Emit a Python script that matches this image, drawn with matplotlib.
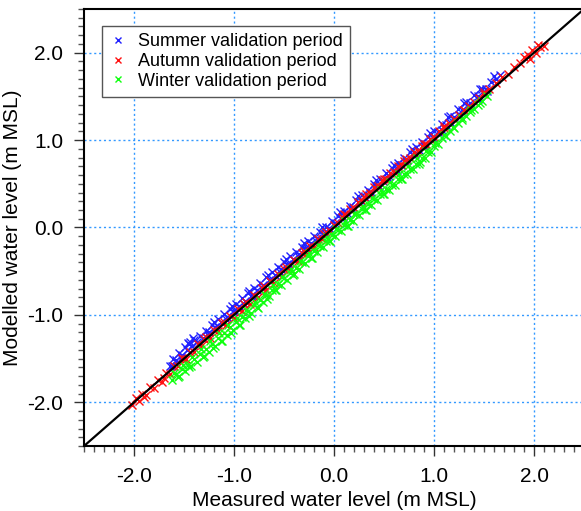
import matplotlib
matplotlib.use("Agg")
import matplotlib.pyplot as plt
from matplotlib.ticker import MultipleLocator, FormatStrFormatter

plt.rcParams["font.family"] = ["Liberation Sans", "DejaVu Sans"]
plt.rcParams["axes.unicode_minus"] = False

# Summer validation period (measured, modelled) in m MSL
summer_meas = [-1.64, -1.61, -1.58, -1.55, -1.52, -1.49, -1.47, -1.45, -1.42, -1.40,
               -1.37, -1.34, -1.31, -1.28, -1.25, -1.22, -1.19, -1.16, -1.13, -1.10,
               -1.07, -1.04, -1.01, -0.98, -0.95, -0.92, -0.89, -0.86, -0.83, -0.80,
               -0.77, -0.74, -0.71, -0.68, -0.65, -0.62, -0.59, -0.56, -0.53, -0.50,
               -0.47, -0.44, -0.41, -0.38, -0.35, -0.32, -0.29, -0.26, -0.23, -0.20,
               -0.17, -0.14, -0.11, -0.08, -0.05, -0.02, 0.01, 0.04, 0.07, 0.10,
               0.13, 0.16, 0.19, 0.22, 0.25, 0.28, 0.31, 0.34, 0.37, 0.40,
               0.43, 0.46, 0.49, 0.52, 0.55, 0.58, 0.61, 0.64, 0.67, 0.70,
               0.73, 0.76, 0.79, 0.82, 0.85, 0.88, 0.91, 0.94, 0.97, 1.00,
               1.04, 1.08, 1.12, 1.16, 1.20, 1.24, 1.28, 1.32, 1.36, 1.40,
               1.44, 1.48, 1.52, 1.57, 1.62, 1.66,
               -1.62, -1.53, -1.44, -1.35, -1.26, -1.17, -1.08, -0.99, -0.90, -0.81,
               -0.72, -0.63, -0.54, -0.45, -0.36, -0.27, -0.18, -0.09, 0.00, 0.09,
               0.18, 0.27, 0.36, 0.45, 0.54, 0.63, 0.72, 0.81, 0.90, 0.99,
               1.08, 1.17, 1.26, 1.35, 1.44, 1.53,
               -1.46, -1.41, -1.20, -1.02, -0.85, -0.66, -0.48, -0.30, -0.12, 0.06,
               0.24, 0.42, 0.60, 0.78, 0.96, 1.14, 1.30, 1.46, 1.60]
summer_mod = [-1.58, -1.50, -1.52, -1.44, -1.46, -1.37, -1.40, -1.33, -1.36, -1.29,
              -1.31, -1.24, -1.26, -1.18, -1.20, -1.12, -1.14, -1.05, -1.08, -0.99,
              -1.02, -0.93, -0.96, -0.87, -0.90, -0.81, -0.84, -0.75, -0.78, -0.69,
              -0.72, -0.63, -0.66, -0.57, -0.60, -0.51, -0.54, -0.45, -0.48, -0.39,
              -0.42, -0.33, -0.36, -0.28, -0.30, -0.22, -0.24, -0.16, -0.18, -0.10,
              -0.12, -0.05, -0.07, 0.01, -0.01, 0.07, 0.05, 0.13, 0.11, 0.19,
              0.17, 0.25, 0.23, 0.31, 0.29, 0.37, 0.35, 0.43, 0.41, 0.50,
              0.47, 0.56, 0.53, 0.62, 0.59, 0.68, 0.65, 0.74, 0.71, 0.80,
              0.77, 0.86, 0.83, 0.92, 0.89, 0.98, 0.95, 1.04, 1.01, 1.10,
              1.09, 1.18, 1.17, 1.27, 1.26, 1.36, 1.34, 1.44, 1.42, 1.52,
              1.50, 1.59, 1.58, 1.67, 1.70, 1.74,
              -1.59, -1.49, -1.31, -1.32, -1.23, -1.13, -1.05, -0.95, -0.87, -0.78,
              -0.69, -0.60, -0.51, -0.42, -0.33, -0.24, -0.15, -0.06, 0.03, 0.12,
              0.21, 0.30, 0.39, 0.48, 0.57, 0.66, 0.75, 0.84, 0.93, 1.02,
              1.11, 1.20, 1.29, 1.38, 1.47, 1.56,
              -1.32, -1.27, -1.08, -0.90, -0.73, -0.54, -0.36, -0.18, 0.00, 0.18,
              0.36, 0.54, 0.72, 0.90, 1.08, 1.26, 1.43, 1.58, 1.73]

# Autumn validation period
autumn_meas = [-2.02, -1.98, -1.95, -1.92, -1.88, -1.84, -1.80, -1.76, -1.72, -1.68,
               -1.64, -1.60, -1.56, -1.52, -1.48, -1.44, -1.40, -1.36, -1.32, -1.28,
               -1.24, -1.20, -1.16, -1.12, -1.08, -1.04, -1.00, -0.96, -0.92, -0.88,
               -0.84, -0.80, -0.76, -0.72, -0.68, -0.64, -0.60, -0.56, -0.52, -0.48,
               -0.44, -0.40, -0.36, -0.32, -0.28, -0.24, -0.20, -0.16, -0.12, -0.08,
               -0.04, 0.00, 0.04, 0.08, 0.12, 0.16, 0.20, 0.24, 0.28, 0.32,
               0.36, 0.40, 0.44, 0.48, 0.52, 0.56, 0.60, 0.64, 0.68, 0.72,
               0.76, 0.80, 0.84, 0.88, 0.92, 0.96, 1.00, 1.05, 1.10, 1.15,
               1.20, 1.25, 1.30, 1.35, 1.40, 1.45, 1.50, 1.55, 1.62, 1.68,
               1.74, 1.80, 1.86, 1.90, 1.94, 1.98, 2.02, 2.06, 2.10,
               -1.90, -1.70, -1.50, -1.30, -1.10, -0.90, -0.70, -0.50, -0.30, -0.10,
               0.10, 0.30, 0.50, 0.70, 0.90, 1.10, 1.30, 1.50, 1.96, 2.04]
autumn_mod = [-2.03, -1.95, -1.99, -1.90, -1.92, -1.82, -1.84, -1.74, -1.77, -1.66,
              -1.68, -1.58, -1.59, -1.49, -1.51, -1.42, -1.43, -1.33, -1.35, -1.25,
              -1.27, -1.17, -1.18, -1.09, -1.11, -1.01, -1.03, -0.93, -0.95, -0.85,
              -0.87, -0.77, -0.79, -0.69, -0.71, -0.61, -0.63, -0.53, -0.55, -0.45,
              -0.47, -0.37, -0.38, -0.29, -0.30, -0.21, -0.22, -0.13, -0.13, -0.05,
              -0.04, 0.03, 0.05, 0.12, 0.14, 0.21, 0.22, 0.29, 0.30, 0.38,
              0.39, 0.46, 0.47, 0.54, 0.56, 0.62, 0.64, 0.70, 0.72, 0.78,
              0.80, 0.86, 0.88, 0.93, 0.96, 1.01, 1.04, 1.10, 1.14, 1.20,
              1.24, 1.29, 1.34, 1.39, 1.44, 1.48, 1.53, 1.58, 1.65, 1.72,
              1.76, 1.84, 1.88, 1.95, 1.97, 2.03, 2.00, 2.06, 2.08,
              -1.94, -1.72, -1.50, -1.28, -1.08, -0.88, -0.67, -0.47, -0.27, -0.07,
              0.15, 0.35, 0.56, 0.76, 0.96, 1.16, 1.35, 1.55, 1.93, 2.09]

# Winter validation period
winter_meas = [-1.62, -1.58, -1.55, -1.52, -1.49, -1.46, -1.43, -1.40, -1.37, -1.34,
               -1.31, -1.28, -1.25, -1.22, -1.19, -1.16, -1.13, -1.10, -1.07, -1.04,
               -1.01, -0.98, -0.95, -0.92, -0.89, -0.86, -0.83, -0.80, -0.77, -0.74,
               -0.71, -0.68, -0.65, -0.62, -0.59, -0.56, -0.53, -0.50, -0.47, -0.44,
               -0.41, -0.38, -0.35, -0.32, -0.29, -0.26, -0.23, -0.20, -0.17, -0.14,
               -0.11, -0.08, -0.05, -0.02, 0.01, 0.04, 0.07, 0.10, 0.13, 0.16,
               0.19, 0.22, 0.25, 0.28, 0.31, 0.34, 0.37, 0.40, 0.43, 0.46,
               0.49, 0.52, 0.55, 0.58, 0.61, 0.64, 0.67, 0.70, 0.73, 0.76,
               0.79, 0.82, 0.85, 0.88, 0.91, 0.94, 0.97, 1.00, 1.04, 1.08,
               1.12, 1.16, 1.20, 1.24, 1.28, 1.32, 1.36, 1.40, 1.44, 1.48, 1.53,
               -1.60, -1.51, -1.42, -1.33, -1.24, -1.15, -1.06, -0.97, -0.88, -0.79,
               -0.70, -0.61, -0.52, -0.43, -0.34, -0.25, -0.16, -0.07, 0.02, 0.11,
               0.20, 0.29, 0.38, 0.47, 0.56, 0.65, 0.74, 0.83, 0.92, 1.01,
               1.10, 1.19, 1.28, 1.37, 1.46,
               -1.56, -1.45, -1.30, -1.21, -1.12, -1.03, -0.94, -0.85, -0.76, -0.67,
               -0.58, -0.40, -0.22, -0.04, 0.14, 0.32, 0.50, 0.68, 0.86]
winter_mod = [-1.74, -1.68, -1.70, -1.62, -1.64, -1.57, -1.59, -1.51, -1.54, -1.45,
              -1.48, -1.39, -1.42, -1.33, -1.36, -1.27, -1.30, -1.21, -1.23, -1.14,
              -1.17, -1.08, -1.11, -1.02, -1.04, -0.95, -0.98, -0.89, -0.91, -0.83,
              -0.85, -0.77, -0.78, -0.71, -0.72, -0.65, -0.66, -0.58, -0.60, -0.52,
              -0.54, -0.46, -0.47, -0.40, -0.41, -0.33, -0.35, -0.27, -0.28, -0.21,
              -0.22, -0.15, -0.16, -0.09, -0.10, -0.03, -0.04, 0.03, 0.02, 0.09,
              0.08, 0.15, 0.14, 0.21, 0.20, 0.27, 0.26, 0.33, 0.32, 0.38,
              0.38, 0.44, 0.43, 0.49, 0.49, 0.55, 0.55, 0.61, 0.61, 0.67,
              0.67, 0.73, 0.73, 0.80, 0.79, 0.86, 0.86, 0.93, 0.96, 1.02,
              1.05, 1.10, 1.14, 1.19, 1.23, 1.28, 1.32, 1.36, 1.40, 1.45, 1.50,
              -1.66, -1.57, -1.48, -1.39, -1.30, -1.21, -1.12, -1.03, -0.94, -0.85,
              -0.76, -0.66, -0.57, -0.48, -0.38, -0.29, -0.20, -0.11, -0.02, 0.07,
              0.16, 0.25, 0.34, 0.43, 0.52, 0.61, 0.70, 0.79, 0.88, 0.97,
              1.06, 1.15, 1.25, 1.34, 1.43,
              -1.71, -1.60, -1.47, -1.38, -1.30, -1.21, -1.11, -1.01, -0.92, -0.82,
              -0.72, -0.53, -0.35, -0.16, 0.02, 0.20, 0.38, 0.56, 0.75]

axis_limits = [-2.5, 2.5]

fig = plt.figure(figsize=(5.81, 5.11), dpi=100)
ax = fig.add_axes([0.1446, 0.1272, 0.8606, 0.8552])

ax.plot(summer_meas, summer_mod, "x", color="#2020ff", markersize=5.5, mew=1.0,
        label="Summer validation period")
ax.plot(autumn_meas, autumn_mod, "x", color="#ff1010", markersize=5.5, mew=1.0,
        label="Autumn validation period")
ax.plot(winter_meas, winter_mod, "x", color="#10ff10", markersize=5.5, mew=1.0,
        label="Winter validation period")
ax.plot(axis_limits, axis_limits, color="black", linewidth=1.6)

ax.set_xlim(axis_limits)
ax.set_ylim(axis_limits)
ax.xaxis.set_major_locator(MultipleLocator(1.0))
ax.yaxis.set_major_locator(MultipleLocator(1.0))
ax.xaxis.set_minor_locator(MultipleLocator(0.1))
ax.yaxis.set_minor_locator(MultipleLocator(0.1))
ax.xaxis.set_major_formatter(FormatStrFormatter("%.1f"))
ax.yaxis.set_major_formatter(FormatStrFormatter("%.1f"))
ax.tick_params(which="major", direction="out", length=7, width=1, color="#333333",
               labelsize=15, pad=8)
ax.tick_params(which="minor", direction="out", length=4, width=1, color="#555555")
ax.grid(True, which="major", linestyle=(0, (1.5, 2)), color="#3399ff", linewidth=1)
ax.spines["right"].set_visible(False)
for s in ["left", "bottom", "top"]:
    ax.spines[s].set_linewidth(1.5)

ax.set_xlabel("Measured water level (m MSL)", fontsize=15, labelpad=4)
ax.set_ylabel("Modelled water level (m MSL)", fontsize=15, labelpad=4)

leg = ax.legend(loc="upper left", bbox_to_anchor=(0.036, 0.961), borderaxespad=0,
                fontsize=13, fancybox=False, framealpha=1, edgecolor="#555555",
                handlelength=1.0, handletextpad=0.6, labelspacing=0.15,
                borderpad=0.4, markerscale=0.8)
leg.get_frame().set_linewidth(1.0)

fig.savefig("out.png", dpi=100)
